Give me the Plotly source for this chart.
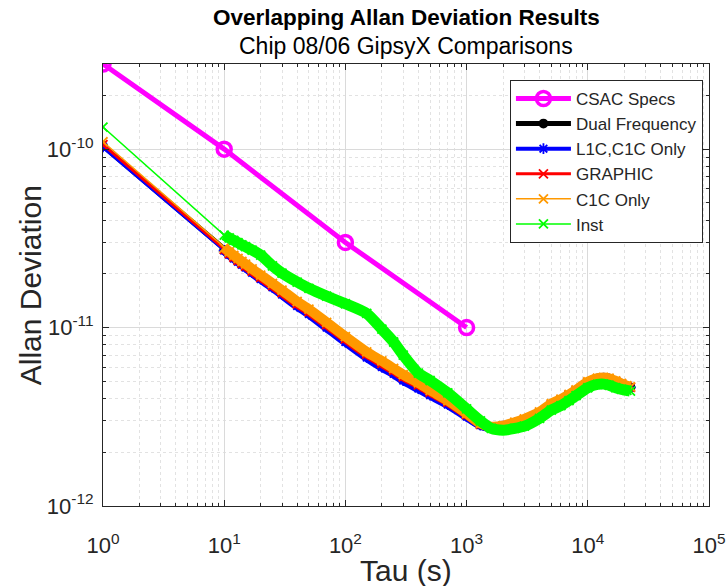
import plotly.graph_objects as go
import numpy as np

# ---------------- data ----------------
csac_tau = [1, 10, 100, 1000]
csac_adev = [3e-10, 1e-10, 3e-11, 1e-11]

tau = [1, 10, 11, 12, 13, 14, 15, 17, 20, 25, 30, 40, 50, 70, 100, 150, 200, 250,
       300, 400, 500, 700, 1000, 1300, 1600, 2000, 2500, 3000, 4000, 5000, 6000,
       7000, 8000, 10000, 12000, 13500, 15000, 17000, 19000, 21000, 22500]

dual_freq = [1.04e-10, 2.72e-11, 2.58e-11, 2.46e-11, 2.36e-11, 2.27e-11, 2.19e-11, 2.05e-11,
             1.89e-11, 1.70e-11, 1.55e-11, 1.34e-11, 1.21e-11, 1.02e-11, 8.5e-12, 6.95e-12,
             6.15e-12, 5.6e-12, 5.15e-12, 4.65e-12, 4.25e-12, 3.75e-12, 3.2e-12, 2.85e-12,
             2.75e-12, 2.8e-12, 2.92e-12, 3.05e-12, 3.33e-12, 3.7e-12, 3.93e-12, 4.18e-12,
             4.42e-12, 4.92e-12, 5.15e-12, 5.2e-12, 5.15e-12, 4.97e-12, 4.82e-12, 4.68e-12,
             4.62e-12]

l1c_c1c = [1.03e-10, 2.70e-11, 2.56e-11, 2.44e-11, 2.34e-11, 2.25e-11, 2.17e-11, 2.03e-11,
           1.87e-11, 1.68e-11, 1.53e-11, 1.32e-11, 1.19e-11, 1.0e-11, 8.3e-12, 6.8e-12,
           6.0e-12, 5.5e-12, 5.05e-12, 4.55e-12, 4.18e-12, 3.7e-12, 3.17e-12, 2.84e-12,
           2.75e-12, 2.8e-12, 2.92e-12, 3.05e-12, 3.33e-12, 3.7e-12, 3.93e-12, 4.18e-12,
           4.42e-12, 4.92e-12, 5.15e-12, 5.2e-12, 5.15e-12, 4.97e-12, 4.82e-12, 4.68e-12,
           4.62e-12]

graphic = [1.06e-10, 2.74e-11, 2.6e-11, 2.48e-11, 2.38e-11, 2.29e-11, 2.21e-11, 2.07e-11,
           1.91e-11, 1.72e-11, 1.57e-11, 1.36e-11, 1.23e-11, 1.04e-11, 8.65e-12, 7.1e-12,
           6.3e-12, 5.75e-12, 5.3e-12, 4.78e-12, 4.35e-12, 3.82e-12, 3.25e-12, 2.87e-12,
           2.76e-12, 2.8e-12, 2.92e-12, 3.05e-12, 3.33e-12, 3.7e-12, 3.93e-12, 4.18e-12,
           4.42e-12, 4.92e-12, 5.15e-12, 5.2e-12, 5.15e-12, 4.97e-12, 4.82e-12, 4.68e-12,
           4.62e-12]

c1c_only = [1.10e-10, 2.8e-11, 2.66e-11, 2.54e-11, 2.44e-11, 2.35e-11, 2.27e-11, 2.13e-11,
            1.97e-11, 1.77e-11, 1.62e-11, 1.40e-11, 1.27e-11, 1.07e-11, 8.9e-12, 7.3e-12,
            6.5e-12, 5.9e-12, 5.45e-12, 4.9e-12, 4.45e-12, 3.9e-12, 3.3e-12, 2.9e-12,
            2.78e-12, 2.82e-12, 2.95e-12, 3.08e-12, 3.37e-12, 3.75e-12, 3.97e-12, 4.22e-12,
            4.47e-12, 4.97e-12, 5.2e-12, 5.25e-12, 5.2e-12, 5.02e-12, 4.86e-12, 4.72e-12,
            4.66e-12]

inst = [1.33e-10, 3.3e-11, 3.18e-11, 3.08e-11, 2.99e-11, 2.91e-11, 2.84e-11, 2.72e-11,
        2.55e-11, 2.22e-11, 2.02e-11, 1.8e-11, 1.66e-11, 1.5e-11, 1.36e-11, 1.2e-11,
        9.8e-12, 8.3e-12, 7.0e-12, 5.55e-12, 5.05e-12, 4.3e-12, 3.5e-12, 3.0e-12,
        2.72e-12, 2.66e-12, 2.72e-12, 2.8e-12, 3.1e-12, 3.45e-12, 3.65e-12, 3.9e-12,
        4.15e-12, 4.6e-12, 4.8e-12, 4.82e-12, 4.75e-12, 4.6e-12, 4.5e-12, 4.45e-12,
        4.4e-12]

series = [
    # name, values, color, line width, marker symbol, marker size, band width
    ("Dual Frequency", dual_freq, "#000000", 5, "circle", 8, 9),
    ("L1C,C1C Only", l1c_c1c, "#0000ff", 4, "asterisk-open", 9, 9),
    ("GRAPHIC", graphic, "#ff0000", 3, "x-thin-open", 9, 9),
    ("C1C Only", c1c_only, "#ff9900", 1.5, "x-thin-open", 9, 10),
    ("Inst", inst, "#00ff00", 1.5, "x-thin-open", 9, 11),
]

x_ticks = [1, 10, 100, 1000, 10000, 100000]
x_ticktext = ["10<sup>0</sup>", "10<sup>1</sup>", "10<sup>2</sup>", "10<sup>3</sup>",
              "10<sup>4</sup>", "10<sup>5</sup>"]
y_ticks = [1e-12, 1e-11, 1e-10]
y_ticktext = ["10<sup>-12</sup>", "10<sup>-11</sup>", "10<sup>-10</sup>"]

FONT = "Liberation Sans, Arial, Helvetica, sans-serif"
TXT = "#262626"

fig = go.Figure()

fig.add_trace(go.Scatter(
    x=csac_tau, y=csac_adev, name="CSAC Specs", mode="lines+markers",
    line=dict(color="#ff00ff", width=5),
    marker=dict(symbol="circle-open", size=14, color="#ff00ff", line=dict(width=3.5)),
))

for name, vals, col, lw, sym, ms, bw in series:
    # dense band of overlapping markers (tau >= 10)
    fig.add_trace(go.Scatter(
        x=tau[1:], y=vals[1:], mode="lines", showlegend=False, legendgroup=name,
        line=dict(color=col, width=bw, shape="spline", smoothing=0.6),
        hoverinfo="skip",
    ))
    mk = dict(symbol=sym, size=ms, color=col, line=dict(color=col, width=1.8))
    fig.add_trace(go.Scatter(
        x=tau, y=vals, name=name, mode="lines+markers", legendgroup=name,
        line=dict(color=col, width=lw),
        marker=mk,
    ))

# minor ticks positions (2..9 per decade)
x_minor = [m * 10 ** k for k in range(0, 5) for m in range(2, 10)]
y_minor = [m * 10.0 ** k for k in range(-12, -9) for m in range(2, 10)]

axis_common = dict(
    type="log", showline=True, linecolor="#262626", linewidth=1, mirror="ticks",
    ticks="inside", ticklen=6, tickcolor="#262626",
    showgrid=True, gridcolor="#dadada", gridwidth=1,
    tickfont=dict(family=FONT, size=22, color=TXT),
    zeroline=False, automargin=False,
)

fig.update_xaxes(
    **axis_common, range=[0, 5], tickmode="array", tickvals=x_ticks, ticktext=x_ticktext,
    ticklabelstandoff=20,
    minor=dict(tickmode="array", tickvals=x_minor, ticks="inside", ticklen=3,
               tickcolor="#262626", showgrid=True, gridcolor="#e2e2e2", griddash="dot"),
)
fig.update_yaxes(
    **axis_common, range=[-12, np.log10(3e-10)], tickmode="array", tickvals=y_ticks,
    ticktext=y_ticktext, ticklabelstandoff=4,
    minor=dict(tickmode="array", tickvals=y_minor, ticks="inside", ticklen=3,
               tickcolor="#262626", showgrid=True, gridcolor="#e2e2e2", griddash="dot"),
)

fig.update_layout(
    width=728, height=586,
    margin=dict(l=103, r=19, t=64, b=80, autoexpand=False),
    paper_bgcolor="white", plot_bgcolor="white",
    font=dict(family=FONT, color=TXT),
    showlegend=True,
    legend=dict(
        x=0.99, xanchor="right", y=0.964, yanchor="top",
        bgcolor="white", bordercolor="#262626", borderwidth=1,
        font=dict(family=FONT, size=17, color=TXT),
        itemwidth=55, tracegroupgap=0,
    ),
    annotations=[
        dict(text="<b>Overlapping Allan Deviation Results</b>", x=0.5, y=1.106,
             xref="paper", yref="paper", showarrow=False, xanchor="center", yanchor="middle",
             font=dict(family=FONT, size=22.5, color="#000000")),
        dict(text="Chip 08/06 GipsyX Comparisons", x=0.5, y=1.041,
             xref="paper", yref="paper", showarrow=False, xanchor="center", yanchor="middle",
             font=dict(family=FONT, size=23, color="#000000")),
        dict(text="Tau (s)", x=0.5, y=-0.145, xref="paper", yref="paper", showarrow=False,
             xanchor="center", yanchor="middle",
             font=dict(family=FONT, size=30, color=TXT)),
        dict(text="Allan Deviation", x=-0.12, y=0.5, xref="paper", yref="paper",
             showarrow=False, xanchor="center", yanchor="middle", textangle=-90,
             font=dict(family=FONT, size=30, color=TXT)),
    ],
)

fig.write_html("out.html")
